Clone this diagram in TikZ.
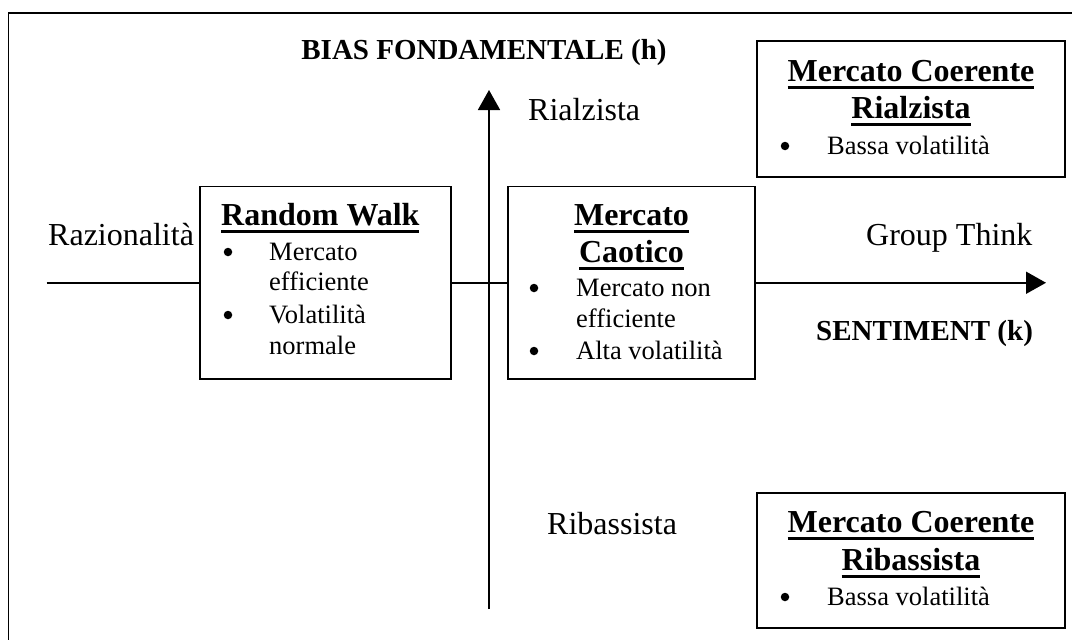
\documentclass[tikz,border=0pt]{standalone}
\usepackage{fontspec}
\setmainfont{Liberation Serif}
\usetikzlibrary{arrows.meta}
\newcommand\ulx[1]{\setbox0\hbox{#1}\rlap{\rule[-7.5pt]{\wd0}{2.6pt}}\box0}
\tikzset{
  box/.style={draw, line width=1.8pt, inner sep=0pt, fill=white},
  axis/.style={line width=1.7pt},
  lbl/.style={inner sep=0pt, font=\fontsize{32}{37}\selectfont},
  blbl/.style={inner sep=0pt, font=\fontsize{29}{34}\selectfont\bfseries},
  ttl/.style={inner sep=0pt, font=\fontsize{32}{37}\selectfont\bfseries},
  itm/.style={inner sep=0pt, font=\fontsize{26.5}{30}\selectfont},
  bul/.style={circle, fill=black, inner sep=0pt, minimum size=8.5pt},
  arr/.style={-{Triangle[length=20pt,width=22pt]}}
}
\begin{document}
\begin{tikzpicture}[x=1pt,y=-1pt]
\useasboundingbox (0,0) rectangle (1072,640);
\clip (0,0) rectangle (1072,640);
\fill[white] (0,0) rectangle (1072,640);
\draw[line width=1.8pt] (8.5,13) rectangle (1100,700);

% boxes
\node[box, minimum width=251pt, minimum height=192.5pt] (rw) at (325.5,282.75) {};
\node[box, minimum width=247pt, minimum height=192.5pt] (mc) at (631.5,282.75) {};
\node[box, minimum width=307.5pt, minimum height=136pt] (mcr) at (911,109) {};
\node[box, minimum width=307.5pt, minimum height=135pt] (mcb) at (911,560.5) {};

% axes
\coordinate (hstart) at (46.5,282.75);
\coordinate (htip) at (1046,282.75);
\coordinate (vstart) at (489,609);
\coordinate (vtip) at (489,90);
\draw[axis] (hstart) -- (rw.west);
\draw[axis] (rw.east) -- (mc.west);
\draw[axis,arr] (mc.east) -- (htip);
\draw[axis,arr] (vstart) -- (vtip);

% axis labels
\node[blbl, anchor=base] (bias) at (484,59) {BIAS FONDAMENTALE (h)};
\node[lbl, anchor=base west] (rial) at (528,120) {Rialzista};
\node[lbl, anchor=base west] (raz) at (48,245) {Razionalità};
\node[lbl, anchor=base west] (gt) at (866,245) {Group Think};
\node[blbl, anchor=base west] (sent) at (816,340) {SENTIMENT (k)};
\node[lbl, anchor=base west] (rib) at (547,534) {Ribassista};

% Random Walk
\node[ttl, anchor=base west] (rwt) at (221,225) {\ulx{Random Walk}};
\node[bul] (rwb1) at (228,252) {};
\node[itm, anchor=base west] (rw1) at (269,260) {Mercato};
\node[itm, anchor=base west] (rw2) at (269,290) {efficiente};
\node[bul] (rwb2) at (228,315) {};
\node[itm, anchor=base west] (rw3) at (269,323) {Volatilità};
\node[itm, anchor=base west] (rw4) at (269,354) {normale};

% Mercato Caotico
\node[ttl, anchor=base] (mct1) at (631.5,225) {\ulx{Mercato}};
\node[ttl, anchor=base] (mct2) at (631.5,262) {\ulx{Caotico}};
\node[bul] (mcb1) at (534,288) {};
\node[itm, anchor=base west] (mc1) at (576,296) {Mercato non};
\node[itm, anchor=base west] (mc2) at (576,327) {efficiente};
\node[bul] (mcb2) at (534,351) {};
\node[itm, anchor=base west] (mc3) at (576,359) {Alta volatilità};

% Mercato Coerente Rialzista
\node[ttl, anchor=base] (mcrt1) at (911,81) {\ulx{Mercato Coerente}};
\node[ttl, anchor=base] (mcrt2) at (911,118) {\ulx{Rialzista}};
\node[bul] (mcrb) at (785,146) {};
\node[itm, anchor=base west] (mcr1) at (827,154) {Bassa volatilità};

% Mercato Coerente Ribassista
\node[ttl, anchor=base] (mcbt1) at (911,532) {\ulx{Mercato Coerente}};
\node[ttl, anchor=base] (mcbt2) at (911,570) {\ulx{Ribassista}};
\node[bul] (mcbb) at (785,597) {};
\node[itm, anchor=base west] (mcb1t) at (827,605) {Bassa volatilità};
\end{tikzpicture}
\end{document}
